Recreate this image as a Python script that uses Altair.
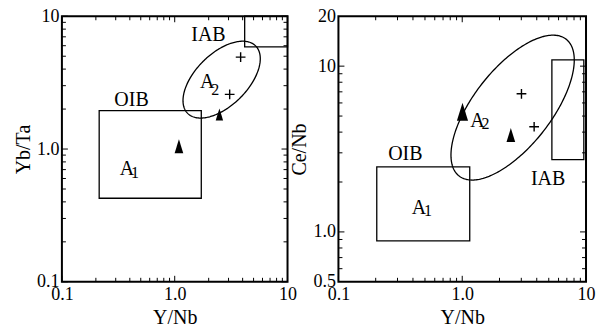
import numpy as np
import pandas as pd
import altair as alt

FONT = "Liberation Serif"

# ---------------- shared x axis (Y/Nb) ----------------
x_domain = [0.1, 10]
x_major = [0.1, 1, 10]
x_minor = [0.2, 0.3, 0.4, 0.5, 0.6, 0.7, 0.8, 0.9, 2, 3, 4, 5, 6, 7, 8, 9]
x_labels = [0.1, 1, 10]

# ---------------- left panel: Yb/Ta vs Y/Nb ----------------
L_ydomain = [0.1, 10]
L_ymajor = [0.1, 1, 10]
L_yminor = [0.2, 0.3, 0.4, 0.5, 0.6, 0.7, 0.8, 0.9, 2, 3, 4, 5, 6, 7, 8, 9]
L_ylabels = [0.1, 1, 10]

L_rect_x1 = [0.214, 4.17]
L_rect_x2 = [1.72, 10]
L_rect_y1 = [0.426, 5.88]
L_rect_y2 = [1.95, 10]

L_tri_x = [1.09, 2.49]
L_tri_y = [1.05, 1.82]
L_tri_h = [14, 12]

L_plus_x = [3.84, 3.07]
L_plus_y = [4.92, 2.58]

L_lab_text = ["OIB", "IAB"]
L_lab_x = [0.414, 1.99]
L_lab_y = [2.32, 7.22]

L_A_x = [0.378, 1.94]
L_A_y = [0.713, 3.22]
L_A_sub = ["1", "2"]

# ellipse: centre (data), radii in decades, phase (deg)
L_ell_c = [2.606, 3.332]
L_ell_r = [0.3425, 0.2895]
L_ell_d = 57

# ---------------- right panel: Ce/Nb vs Y/Nb ----------------
R_ydomain = [0.5, 20]
R_ymajor = [1, 10]
R_yminor = [0.6, 0.7, 0.8, 0.9, 2, 3, 4, 5, 6, 7, 8, 9]
R_ylabels = [0.5, 1, 10, 20]

R_rect_x1 = [0.204, 5.3]
R_rect_x2 = [1.15, 9.6]
R_rect_y1 = [0.883, 2.73]
R_rect_y2 = [2.47, 10.9]

R_tri_x = [1.005, 2.47]
R_tri_y = [5.30, 3.84]
R_tri_h = [18, 14]

R_plus_x = [3.01, 3.81]
R_plus_y = [6.81, 4.31]

R_lab_text = ["OIB", "IAB"]
R_lab_x = [0.347, 4.94]
R_lab_y = [2.95, 2.08]

R_A_x = [0.448, 1.33]
R_A_y = [1.40, 4.67]
R_A_sub = ["1", "2"]

R_ell_c = [2.553, 5.623]
R_ell_r = [0.498, 0.437]
R_ell_d = 49

TRI = "M0,-1L0.62,1L-0.62,1Z"
PLUS = "M-1,0L1,0M0,-1L0,1"
LABEL_EXPR = "datum.value < 1 ? format(datum.value, '.1f') : (datum.value < 2 ? '1.0' : format(datum.value, 'd'))"


def ellipse_df(c, r, d):
    t = np.linspace(0, 2 * np.pi, 241)
    u = np.log10(c[0]) + r[0] * np.cos(t)
    v = np.log10(c[1]) + r[1] * np.cos(t - np.radians(d))
    return pd.DataFrame({"x": 10 ** u, "y": 10 ** v, "i": np.arange(len(t))})


def panel(W, H, ydom, ymaj, ymin, ylabs, ytitle, rx1, rx2, ry1, ry2,
          tx, ty, th, px, py, lt, lx, ly, ax, ay, asub, sub_off, ec, er, ed):
    xs = alt.Scale(type="log", domain=x_domain, nice=False)
    ys = alt.Scale(type="log", domain=ydom, nice=False)

    xaxis = alt.Axis(values=x_labels, labelExpr=LABEL_EXPR, ticks=False, tickSize=0,
                     domain=False, grid=False, labelFont=FONT, labelFontSize=18,
                     labelColor="black", labelPadding=4, labelFlush=False,
                     labelOverlap=False, title="Y/Nb", titleFont=FONT,
                     titleFontSize=20, titleFontWeight="normal", titleColor="black",
                     titlePadding=4)
    yaxis = alt.Axis(values=ylabs, labelExpr=LABEL_EXPR, ticks=False, tickSize=0,
                     domain=False, grid=False, labelFont=FONT, labelFontSize=18,
                     labelColor="black", labelPadding=3, labelFlush=False,
                     labelOverlap=False, title=ytitle, titleFont=FONT,
                     titleFontSize=20, titleFontWeight="normal", titleColor="black",
                     titlePadding=3)

    def X(f):
        return alt.X(f, type="quantitative", scale=xs, axis=xaxis)

    def Y(f):
        return alt.Y(f, type="quantitative", scale=ys, axis=yaxis)

    rects = pd.DataFrame({"x1": rx1, "x2": rx2, "y1": ry1, "y2": ry2})
    rect_layer = alt.Chart(rects).mark_rect(fillOpacity=0, stroke="black", strokeWidth=1.3).encode(
        x=X("x1"), x2="x2", y=Y("y1"), y2="y2")

    ell = alt.Chart(ellipse_df(ec, er, ed)).mark_line(color="black", strokeWidth=1.3).encode(
        x=X("x"), y=Y("y"), order="i:Q")

    tris = pd.DataFrame({"x": tx, "y": ty, "s": [h * h for h in th]})
    tri_layer = alt.Chart(tris).mark_point(shape=TRI, filled=True, color="black", opacity=1,
                                           strokeWidth=0).encode(
        x=X("x"), y=Y("y"), size=alt.Size("s:Q", scale=None))

    plus = pd.DataFrame({"x": px, "y": py})
    plus_layer = alt.Chart(plus).mark_point(shape=PLUS, filled=False, color="black", opacity=1,
                                            strokeWidth=1.4, size=95).encode(x=X("x"), y=Y("y"))

    labs = pd.DataFrame({"t": lt, "x": lx, "y": ly})
    lab_layer = alt.Chart(labs).mark_text(font=FONT, fontSize=20, color="black",
                                          align="center", baseline="middle").encode(
        x=X("x"), y=Y("y"), text="t:N")

    layers = [rect_layer, ell, tri_layer, plus_layer, lab_layer]

    for i in range(len(ax)):
        d = pd.DataFrame({"x": [ax[i]], "y": [ay[i]], "t": ["A"], "s": [asub[i]]})
        layers.append(alt.Chart(d).mark_text(font=FONT, fontSize=20, color="black",
                                             align="center", baseline="middle").encode(
            x=X("x"), y=Y("y"), text="t:N"))
        layers.append(alt.Chart(d).mark_text(font=FONT, fontSize=16, color="black",
                                             align="left", baseline="middle",
                                             dx=sub_off[i][0], dy=sub_off[i][1]).encode(
            x=X("x"), y=Y("y"), text="s:N"))

    # inward ticks on all four sides
    MAJ, MIN = 6, 4
    xmaj = pd.DataFrame({"v": x_major})
    xmin = pd.DataFrame({"v": x_minor})
    ymajd = pd.DataFrame({"v": ymaj})
    ymind = pd.DataFrame({"v": ymin})
    for df, ln in [(xmaj, MAJ), (xmin, MIN)]:
        layers.append(alt.Chart(df).mark_rule(color="black", strokeWidth=1).encode(
            x=X("v"), y=alt.value(H), y2=alt.value(H - ln)))
        layers.append(alt.Chart(df).mark_rule(color="black", strokeWidth=1).encode(
            x=X("v"), y=alt.value(0), y2=alt.value(ln)))
    for df, ln in [(ymajd, MAJ), (ymind, MIN)]:
        layers.append(alt.Chart(df).mark_rule(color="black", strokeWidth=1).encode(
            y=Y("v"), x=alt.value(0), x2=alt.value(ln)))
        layers.append(alt.Chart(df).mark_rule(color="black", strokeWidth=1).encode(
            y=Y("v"), x=alt.value(W), x2=alt.value(W - ln)))

    return alt.layer(*layers).properties(width=W, height=H)


left = panel(226, 266, L_ydomain, L_ymajor, L_yminor, L_ylabels, "Yb/Ta",
             L_rect_x1, L_rect_x2, L_rect_y1, L_rect_y2,
             L_tri_x, L_tri_y, L_tri_h, L_plus_x, L_plus_y,
             L_lab_text, L_lab_x, L_lab_y, L_A_x, L_A_y, L_A_sub,
             [(4, 4), (4, 8)], L_ell_c, L_ell_r, L_ell_d)

right = panel(248, 266, R_ydomain, R_ymajor, R_yminor, R_ylabels, "Ce/Nb",
              R_rect_x1, R_rect_x2, R_rect_y1, R_rect_y2,
              R_tri_x, R_tri_y, R_tri_h, R_plus_x, R_plus_y,
              R_lab_text, R_lab_x, R_lab_y, R_A_x, R_A_y, R_A_sub,
              [(5, 3), (4, 3)], R_ell_c, R_ell_r, R_ell_d)

chart = alt.hconcat(left, right, spacing=51, bounds="flush").properties(
    padding={"left": 4, "top": -2, "right": 0, "bottom": 0}
).configure(background="white").configure_view(stroke="black", strokeWidth=2)

chart.save("out.html", embed_options={"renderer": "svg", "actions": False})
